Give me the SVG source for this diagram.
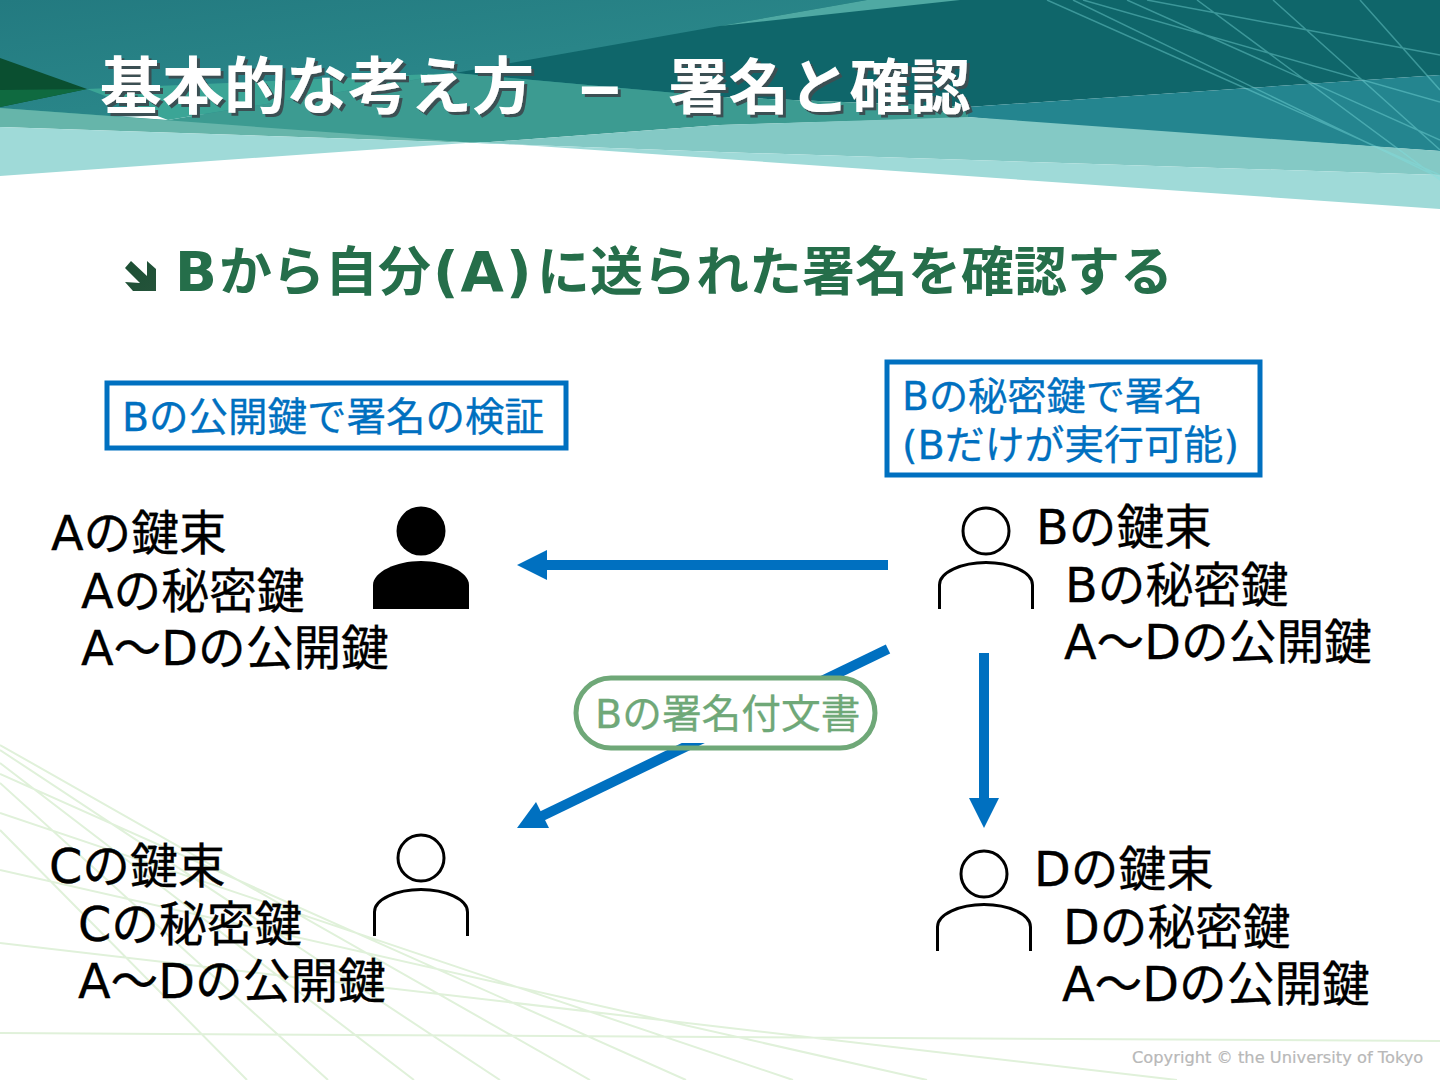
<svg xmlns="http://www.w3.org/2000/svg" width="1440" height="1080" viewBox="0 0 1440 1080">
<defs>
<style>
text{font-family:"DejaVu Sans","Noto Sans CJK JP",sans-serif}
.title{font-weight:700;fill:#fff;font-family:"Noto Sans CJK JP",sans-serif}
.sub{font-weight:700;fill:#256e4a}
.blue{font-size:39.500px;fill:#0070c0;stroke:#0070c0;stroke-width:.3}
.black{font-size:47.700px;fill:#000;stroke:#000;stroke-width:.3}
.box{fill:#fff;stroke:#0070c0;stroke-width:5}
.person{fill:none;stroke:#000;stroke-width:3}
.conn{stroke:#0070c0;stroke-width:10;fill:none}
.head{fill:#0070c0}
.gl{stroke:#e0f1da;stroke-width:2;fill:none}
.tl{stroke:#7fe0e0;stroke-width:1.500;opacity:.4;fill:none}
</style>
<linearGradient id="top" x1="0" y1="0" x2="1" y2="1"><stop offset="0" stop-color="#237a80"/><stop offset="1" stop-color="#2f9090"/></linearGradient>
<linearGradient id="arrowg" x1="0" y1="0" x2="1" y2="1"><stop offset="0" stop-color="#1c4f34"/><stop offset="1" stop-color="#24533a"/></linearGradient>
<filter id="shadow" x="-5%" y="-20%" width="110%" height="140%"><feDropShadow dx="3" dy="3" stdDeviation="0.6" flood-color="#3a4f52"/></filter>
</defs>
<rect width="1440" height="1080" fill="#fff"/>
<g id="background">
<g id="bg-lines-bottom">
<path class="gl" d="M0 813L793 1080M0 870L927 1080M0 943L1177 1080M0 1033L1440 1041M0 774L686 1080M0 745L590 1080M0 750L500 1080M0 763L414 1080M0 783L328 1080M0 830L247 1080"/>
</g>
<polygon points="0,0 960,0 720,100 0,120" fill="url(#top)"/>
<polygon points="455,73 720,26 867,0 1440,0 1440,75 968,107 720,97" fill="#0f666a"/>
<polygon points="720,26 867,0 960,0" fill="#4fa9a3"/>
<polygon points="968,107 1440,75 1440,151 1040,124 968,117" fill="#24858f"/>
<polygon points="0,108 168,120 455,73 720,97 968,107 968,118 720,125 477,143 0,115" fill="#3c9b91"/>
<polygon points="87,89 168,120 455,73" fill="#3ba596"/>
<polygon points="720,125 968,117 1440,151 1440,175 720,152 477,143" fill="#84c9c5"/>
<polygon points="0,108 477,143 0,127" fill="#66b5aa"/>
<polygon points="0,127 477,143 720,152 1440,175 1440,209 480,142 0,176" fill="#9fdad8"/>
<polygon points="0,58 87,89 0,107" fill="#0a4f30"/>
<polygon points="0,90 87,89 0,107" fill="#0f6a40"/>
<path class="tl" d="M1047 0L1440 175M1073 0L1440 178M1083 0L1440 102M1147 0L1440 55M1127 0L1440 140M1197 0L1440 180M1273 0L1440 150M1360 0L1440 90"/>
</g>
<g id="title" filter="url(#shadow)">
<text class="title" x="100" y="109" font-size="62">基本的な考え方</text>
<text class="title" x="578" y="113" font-size="80">–</text>
<text class="title" x="668" y="109" font-size="60.500">署名と確認</text>
</g>
<g id="subtitle">
<polygon points="131,261 125,268 140,283 125,282 133,291 156,291 156,269 147,261 147,276" fill="url(#arrowg)"/>
<text class="sub" y="291"><tspan x="175" font-size="55">B</tspan><tspan x="219" font-size="53">から自分</tspan><tspan x="433" font-size="56" letter-spacing="2">(A)</tspan><tspan x="537" font-size="53">に送られた署名を確認する</tspan></text>
</g>
<g id="connectors">
<line class="conn" x1="888" y1="565" x2="545" y2="565"/>
<polygon class="head" points="517,565 547,550 547,580"/>
<line class="conn" x1="984" y1="653" x2="984" y2="800"/>
<polygon class="head" points="984,828 969,798 999,798"/>
<line class="conn" x1="888" y1="649" x2="540" y2="817"/>
<polygon class="head" points="517,828 536,802 549,828"/>
</g>
<g id="label-signed">
<rect x="576" y="678" width="299" height="65" rx="33" fill="#fff"/>
<rect x="576" y="678" width="299" height="70" rx="35" fill="none" stroke="#6fa878" stroke-width="5"/>
<text x="595" y="728" font-size="39.700" fill="#6fa878" stroke="#6fa878" stroke-width=".3">Bの署名付文書</text>
</g>
<g id="note-verify">
<rect class="box" x="107" y="383" width="459" height="65"/>
<text class="blue" x="122" y="431">Bの公開鍵で署名の検証</text>
</g>
<g id="note-sign">
<rect class="box" x="887" y="362" width="373" height="113"/>
<text class="blue" x="902" y="410" style="font-size:39.200px">Bの秘密鍵で署名</text>
<text class="blue" x="902" y="459" style="font-size:39.800px">(Bだけが実行可能)</text>
</g>
<g id="node-a">
<text class="black" x="51" y="550">Aの鍵束</text>
<text class="black" x="81" y="608">Aの秘密鍵</text>
<text class="black" x="81" y="665">A～Dの公開鍵</text>
<circle cx="421" cy="531" r="24.500" fill="#000"/>
<path d="M373 609V585C373 572 396 561 421 561C446 561 469 572 469 585V609Z" fill="#000"/>
</g>
<g id="node-b">
<text class="black" x="1036" y="544">Bの鍵束</text>
<text class="black" x="1065" y="602">Bの秘密鍵</text>
<text class="black" x="1064" y="659">A～Dの公開鍵</text>
<circle class="person" cx="986" cy="531" r="23"/>
<path class="person" d="M939.500 609V585C939.500 572 962 562.500 986 562.500C1010 562.500 1032.500 572 1032.500 585V609"/>
</g>
<g id="node-c">
<text class="black" x="49" y="883">Cの鍵束</text>
<text class="black" x="78" y="941">Cの秘密鍵</text>
<text class="black" x="78" y="998">A～Dの公開鍵</text>
<circle class="person" cx="421" cy="858" r="23"/>
<path class="person" d="M374.500 936V912C374.500 899 397 889.500 421 889.500C445 889.500 467.500 899 467.500 912V936"/>
</g>
<g id="node-d">
<text class="black" x="1034" y="886">Dの鍵束</text>
<text class="black" x="1063" y="944">Dの秘密鍵</text>
<text class="black" x="1062" y="1001">A～Dの公開鍵</text>
<circle class="person" cx="984" cy="874" r="23"/>
<path class="person" d="M937.500 951V927C937.500 914 960 904.500 984 904.500C1008 904.500 1030.500 914 1030.500 927V951"/>
</g>
<text x="1132" y="1063" font-size="16.250" fill="#b8b8b8" stroke="#b8b8b8" stroke-width=".2">Copyright © the University of Tokyo</text>
</svg>
